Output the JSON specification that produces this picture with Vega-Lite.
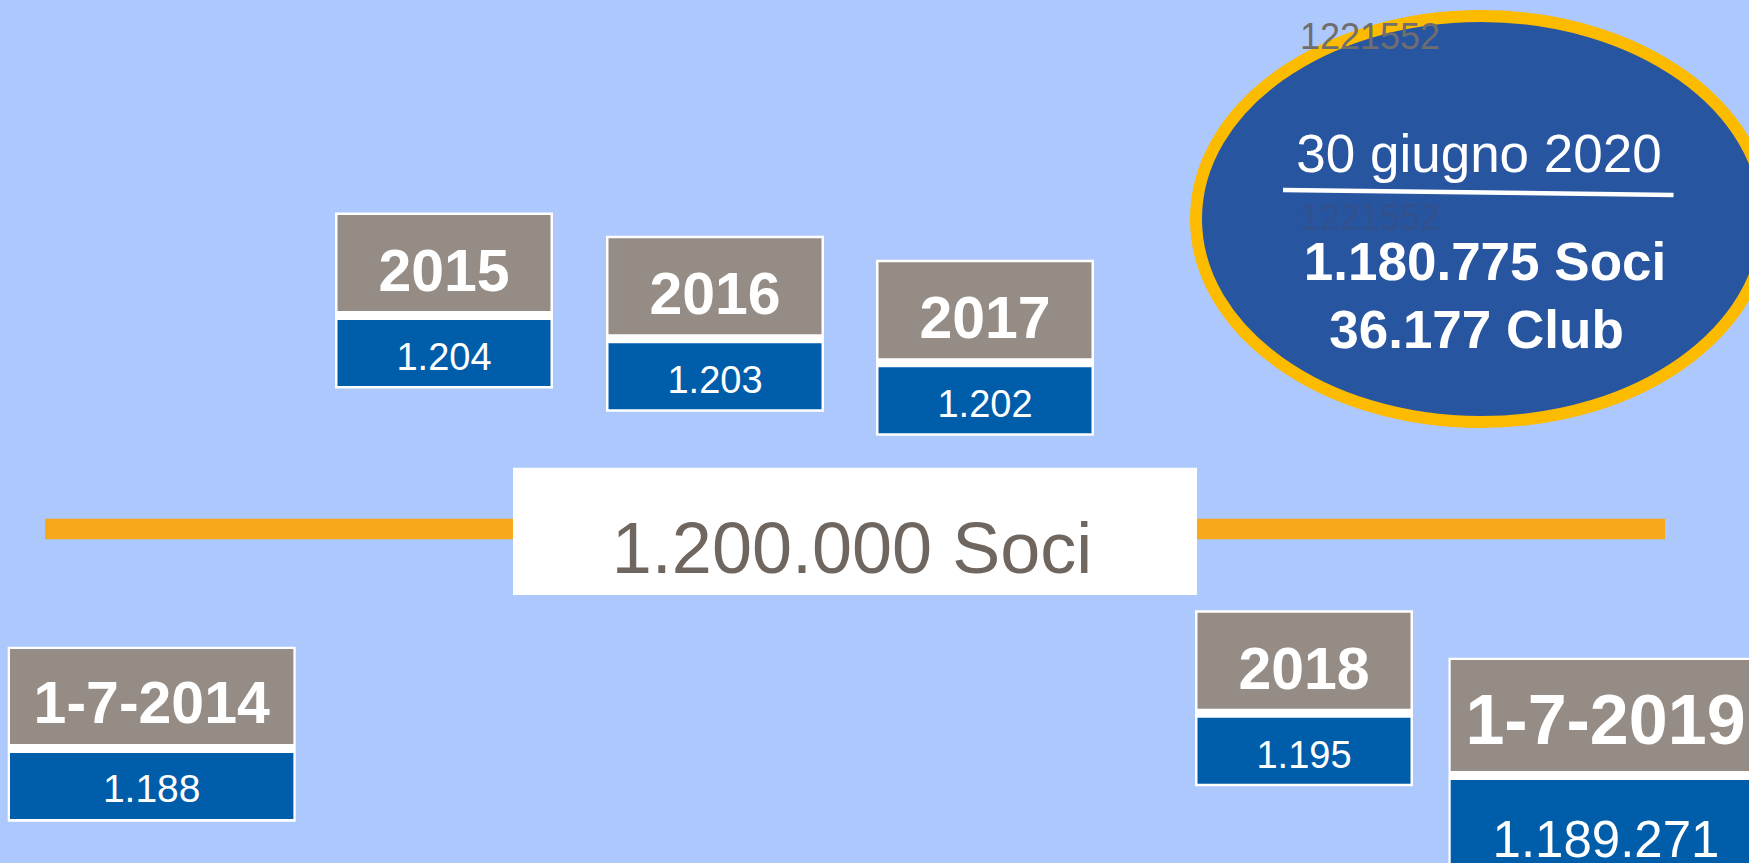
{
  "$schema": "https://vega.github.io/schema/vega-lite/v6.json",
  "width": 1749,
  "height": 863,
  "padding": 0,
  "autosize": {"type": "none"},
  "background": "#ADC8FD",
  "config": {
    "view": {"stroke": null},
    "text": {"font": "'Liberation Sans', Arial, sans-serif", "align": "center", "baseline": "alphabetic", "color": "white"}
  },
  "datasets": {
    "boxes": [
      {"periodo": "1-7-2014", "t": 2014.5, "soci": 1188, "etichetta": "1.188"},
      {"periodo": "2015", "t": 2015, "soci": 1204, "etichetta": "1.204"},
      {"periodo": "2016", "t": 2016, "soci": 1203, "etichetta": "1.203"},
      {"periodo": "2017", "t": 2017, "soci": 1202, "etichetta": "1.202"},
      {"periodo": "2018", "t": 2018, "soci": 1195, "etichetta": "1.195"},
      {"periodo": "1-7-2019", "t": 2019.5, "soci": 1189.271, "etichetta": "1.189.271"}
    ],
    "soglia": [{"t": 2016.5, "soci": 1200, "etichetta": "1.200.000 Soci"}],
    "attuale": [{"t": 2020.5, "soci": 1180.775, "data": "30 giugno 2020", "socitesto": "1.180.775 Soci", "club": "36.177 Club", "nota": "1221552"}]
  },
  "encoding": {
    "x": {"field": "t", "type": "quantitative", "axis": null,
      "scale": {"domain": [2014.5, 2015, 2016, 2016.5, 2017, 2018, 2019.5, 2020.5], "range": [151.7, 444, 715, 850, 985, 1304, 1612, 1481], "zero": false, "nice": false}},
    "y": {"field": "soci", "type": "quantitative", "axis": null,
      "scale": {"domain": [1180.775, 1188, 1189.271, 1195, 1200, 1202, 1203, 1204], "range": [219, 649, 660, 612.7, 529, 262.3, 238.3, 215], "zero": false, "nice": false}}
  },
  "layer": [
    {"data": {"name": "soglia"}, "mark": {"type": "rule", "color": "#F8A81B", "strokeWidth": 20.3, "xOffset": -805, "x2Offset": 815}, "encoding": {"x2": {"field": "t"}}},
    {"data": {"name": "soglia"}, "mark": {"type": "rect", "color": "white", "xOffset": -337, "x2Offset": 347, "yOffset": -61.3, "y2Offset": 66}, "encoding": {"x2": {"field": "t"}, "y2": {"field": "soci"}}},
    {"data": {"name": "soglia"}, "mark": {"type": "text", "fontSize": 72, "color": "#6E665F", "xOffset": 2, "yOffset": 44.3}, "encoding": {"text": {"field": "etichetta"}}},

    {"data": {"name": "boxes"}, "transform": [{"filter": {"field": "t", "oneOf": [2015, 2016, 2017, 2018]}}], "layer": [
      {"mark": {"type": "rect", "color": "white", "xOffset": -109, "x2Offset": 109, "yOffset": -2.5, "y2Offset": 173.5}, "encoding": {"x2": {"field": "t"}, "y2": {"field": "soci"}}},
      {"mark": {"type": "rect", "color": "#958C85", "xOffset": -106.5, "x2Offset": 106.5, "yOffset": 0, "y2Offset": 96}, "encoding": {"x2": {"field": "t"}, "y2": {"field": "soci"}}},
      {"mark": {"type": "rect", "color": "#005DAA", "xOffset": -106.5, "x2Offset": 106.5, "yOffset": 105, "y2Offset": 171}, "encoding": {"x2": {"field": "t"}, "y2": {"field": "soci"}}},
      {"mark": {"type": "text", "fontSize": 59, "fontWeight": "bold", "yOffset": 76}, "encoding": {"text": {"field": "periodo"}}},
      {"mark": {"type": "text", "fontSize": 38, "yOffset": 155}, "encoding": {"text": {"field": "etichetta"}}}
    ]},

    {"data": {"name": "boxes"}, "transform": [{"filter": "datum.t == 2014.5"}], "layer": [
      {"mark": {"type": "rect", "color": "white", "xOffset": -144, "x2Offset": 144, "yOffset": -2.3, "y2Offset": 172.7}, "encoding": {"x2": {"field": "t"}, "y2": {"field": "soci"}}},
      {"mark": {"type": "rect", "color": "#958C85", "xOffset": -141.7, "x2Offset": 141.7, "yOffset": 0, "y2Offset": 95}, "encoding": {"x2": {"field": "t"}, "y2": {"field": "soci"}}},
      {"mark": {"type": "rect", "color": "#005DAA", "xOffset": -141.7, "x2Offset": 141.7, "yOffset": 104, "y2Offset": 170}, "encoding": {"x2": {"field": "t"}, "y2": {"field": "soci"}}},
      {"mark": {"type": "text", "fontSize": 59, "fontWeight": "bold", "yOffset": 74}, "encoding": {"text": {"field": "periodo"}}},
      {"mark": {"type": "text", "fontSize": 39, "yOffset": 152.7}, "encoding": {"text": {"field": "etichetta"}}}
    ]},

    {"data": {"name": "boxes"}, "transform": [{"filter": "datum.t == 2019.5"}], "layer": [
      {"mark": {"type": "rect", "color": "white", "xOffset": -163.5, "x2Offset": 175, "yOffset": -2.3, "y2Offset": 240}, "encoding": {"x2": {"field": "t"}, "y2": {"field": "soci"}}},
      {"mark": {"type": "rect", "color": "#958C85", "xOffset": -161.3, "x2Offset": 175, "yOffset": 0, "y2Offset": 111}, "encoding": {"x2": {"field": "t"}, "y2": {"field": "soci"}}},
      {"mark": {"type": "rect", "color": "#005DAA", "xOffset": -161.3, "x2Offset": 175, "yOffset": 120, "y2Offset": 240}, "encoding": {"x2": {"field": "t"}, "y2": {"field": "soci"}}},
      {"mark": {"type": "text", "fontSize": 70, "fontWeight": "bold", "xOffset": -6.5, "yOffset": 84}, "encoding": {"text": {"field": "periodo"}}},
      {"mark": {"type": "text", "fontSize": 51, "xOffset": -6, "yOffset": 196.7}, "encoding": {"text": {"field": "etichetta"}}}
    ]},

    {"data": {"name": "attuale"}, "layer": [
      {"mark": {"type": "point", "shape": "M -1 0 C -1 -0.3934 -0.5523 -0.7123 0 -0.7123 C 0.5523 -0.7123 1 -0.3934 1 0 C 1 0.3934 0.5523 0.7123 0 0.7123 C -0.5523 0.7123 -1 0.3934 -1 0 Z", "size": 324900, "filled": true, "fill": "#2855A0", "stroke": "#FDBB00", "strokeWidth": 12, "opacity": 1, "fillOpacity": 1, "strokeOpacity": 1}},
      {"mark": {"type": "text", "fontSize": 53, "xOffset": -2, "yOffset": -47.3}, "encoding": {"text": {"field": "data"}}},
      {"mark": {"type": "rule", "color": "white", "strokeWidth": 4.5, "xOffset": -198, "x2Offset": 192.5, "yOffset": -29, "y2Offset": -24}, "encoding": {"x2": {"field": "t"}, "y2": {"field": "soci"}}},
      {"mark": {"type": "text", "fontSize": 53, "fontWeight": "bold", "xOffset": 4, "yOffset": 61}, "encoding": {"text": {"field": "socitesto"}}},
      {"mark": {"type": "text", "fontSize": 53, "fontWeight": "bold", "xOffset": -4.5, "yOffset": 129.3}, "encoding": {"text": {"field": "club"}}},
      {"mark": {"type": "text", "fontSize": 36, "color": "#6E6E6E", "xOffset": -111, "yOffset": -169.7}, "encoding": {"text": {"field": "nota"}}},
      {"mark": {"type": "text", "fontSize": 36, "color": "#31508C", "xOffset": -111, "yOffset": 11}, "encoding": {"text": {"field": "nota"}}}
    ]}
  ]
}
